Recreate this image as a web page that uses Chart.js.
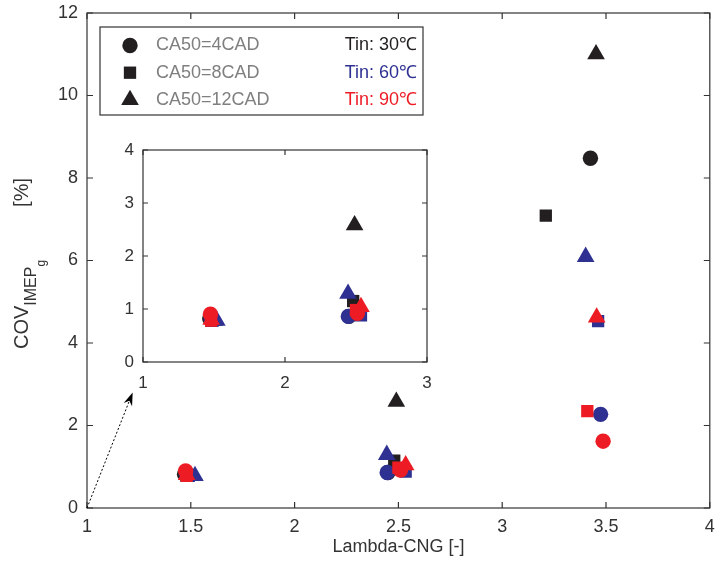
<!DOCTYPE html>
<html>
<head>
<meta charset="utf-8">
<script src="https://cdn.jsdelivr.net/npm/chart.js@4/dist/chart.umd.min.js"></script>
<style>
  body { margin: 0; background: #fff; }
  #wrap { position: relative; width: 720px; height: 571px; }
  #main { position: absolute; left: 0; top: 0; }
  #inset { position: absolute; left: 80px; top: 135px; }
</style>
</head>
<body>
<div id="wrap">
  <canvas id="main" width="720" height="571"></canvas>
  <canvas id="inset" width="360" height="265"></canvas>
</div>
<script>
//Data: lambda and COV of IMEPg, one array per inlet temperature
//rows are CA50 = 4, 8, 12 CAD
const ca50Labels = ["CA50=4CAD", "CA50=8CAD", "CA50=12CAD"];
const tinLabels = ["Tin: 30\u2103", "Tin: 60\u2103", "Tin: 90\u2103"];

const lambdaT30 = [[1.47, 2.45, 3.425], [1.48, 2.48, 3.21], [1.50, 2.49, 3.452]];
const covT30 = [[0.82, 0.86, 8.48], [0.78, 1.15, 7.09], [0.78, 2.58, 11.0]];
const lambdaT60 = [[1.48, 2.446, 3.474], [1.49, 2.535, 3.462], [1.52, 2.444, 3.402]];
const covT60 = [[0.82, 0.86, 2.27], [0.78, 0.88, 4.53], [0.78, 1.29, 6.09]];
const lambdaT90 = [[1.475, 2.51, 3.486], [1.48, 2.50, 3.41], [1.48, 2.535, 3.455]];
const covT90 = [[0.90, 0.92, 1.62], [0.78, 0.98, 2.35], [0.80, 1.04, 4.62]];

const xTicksMain = [1, 1.5, 2, 2.5, 3, 3.5, 4];
const yTicksMain = [0, 2, 4, 6, 8, 10, 12];

//Styles
const tinColors = ["#231f20", "#2e3192", "#ed1c24"];
const shapes = ["circle", "rect", "triangle"];
const shapeRadius = [7.7, 8.7, 10.2];
const FONT = '"Liberation Sans", Arial, sans-serif';
const AXIS = "#333333";

//------------------------------------------

//Build datasets, black first (bottom), red last (top)
function buildDatasets() {
  const lam = [lambdaT30, lambdaT60, lambdaT90];
  const cov = [covT30, covT60, covT90];
  const drawSeq = [[0, 1, 2], [0, 1, 2], [2, 1, 0]]; //red: triangle, square, circle
  const sets = [];
  let n = 0;
  for (let t = 0; t < 3; t++) {
    drawSeq[t].forEach(c => {
      sets.push({
        label: tinLabels[t] + " " + ca50Labels[c],
        data: lam[t][c].map((v, i) => ({x: v, y: cov[t][c][i]})),
        pointStyle: shapes[c],
        pointRadius: shapeRadius[c],
        pointHoverRadius: shapeRadius[c],
        pointBackgroundColor: tinColors[t],
        pointBorderWidth: 0,
        showLine: false,
        order: 100 - n
      });
      n++;
    });
  }
  return sets;
}

const plainTick = v => String(v);
//keep the plot box where it is, labels may overflow the padding
const noPadX = s => { s.paddingLeft = 0; s.paddingRight = 0; };
const noPadY = s => { s.paddingTop = 0; s.paddingBottom = 0; };

//------------------------------------------

//box + inward ticks plugin
const boxTicks = {
  id: 'boxTicks',
  afterDatasetsDraw(chart, args, opts) {
    const {ctx, chartArea: a, scales: {x, y}} = chart;
    const len = opts.len || 6;
    ctx.save();
    ctx.strokeStyle = AXIS;
    ctx.lineWidth = 1.2;
    ctx.beginPath();
    x.ticks.forEach(t => {
      const px = x.getPixelForValue(t.value);
      ctx.moveTo(px, a.bottom); ctx.lineTo(px, a.bottom - len);
      ctx.moveTo(px, a.top); ctx.lineTo(px, a.top + len);
    });
    y.ticks.forEach(t => {
      const py = y.getPixelForValue(t.value);
      ctx.moveTo(a.left, py); ctx.lineTo(a.left + len, py);
      ctx.moveTo(a.right, py); ctx.lineTo(a.right - len, py);
    });
    ctx.stroke();
    ctx.strokeRect(a.left, a.top, a.right - a.left, a.bottom - a.top);
    ctx.restore();
  }
};

//white plot area (inset covers main)
const whiteArea = {
  id: 'whiteArea',
  beforeDraw(chart) {
    const {ctx, chartArea: a} = chart;
    ctx.save();
    ctx.fillStyle = "#fff";
    ctx.fillRect(a.left, a.top, a.right - a.left, a.bottom - a.top);
    ctx.restore();
  }
};

//y title with subscripts
const yTitle = {
  id: 'yTitle',
  afterDraw(chart) {
    const {ctx} = chart;
    const parts = [["COV", 20, 0], ["IMEP", 16, 8], ["g", 12, 17]];
    ctx.save();
    ctx.translate(28, 349);
    ctx.rotate(-Math.PI / 2);
    ctx.fillStyle = AXIS;
    ctx.textBaseline = "alphabetic";
    let px = 0;
    parts.forEach(p => {
      ctx.font = p[1] + "px " + FONT;
      ctx.fillText(p[0], px, p[2]);
      px += ctx.measureText(p[0]).width;
    });
    ctx.font = "20px " + FONT;
    ctx.textAlign = "right";
    ctx.fillText("[%]", 171, 0);
    ctx.restore();
  }
};

//legend (shape column + temperature column) and dotted arrow to the inset
const legendArrow = {
  id: 'legendArrow',
  afterDraw(chart) {
    const {ctx, scales: {x, y}} = chart;
    ctx.save();
    //arrow
    const x0 = x.getPixelForValue(1), y0 = y.getPixelForValue(0);
    const x1 = x.getPixelForValue(1.22), y1 = y.getPixelForValue(2.8);
    const ang = Math.atan2(y1 - y0, x1 - x0);
    ctx.strokeStyle = "#000";
    ctx.lineWidth = 1;
    ctx.setLineDash([2, 2]);
    ctx.beginPath();
    ctx.moveTo(x0, y0);
    ctx.lineTo(x1 - 10 * Math.cos(ang), y1 - 10 * Math.sin(ang));
    ctx.stroke();
    ctx.setLineDash([]);
    ctx.fillStyle = "#000";
    ctx.beginPath();
    ctx.moveTo(x1, y1);
    ctx.lineTo(x1 - 13 * Math.cos(ang) + 4.5 * Math.sin(ang), y1 - 13 * Math.sin(ang) - 4.5 * Math.cos(ang));
    ctx.lineTo(x1 - 9 * Math.cos(ang), y1 - 9 * Math.sin(ang));
    ctx.lineTo(x1 - 13 * Math.cos(ang) - 4.5 * Math.sin(ang), y1 - 13 * Math.sin(ang) + 4.5 * Math.cos(ang));
    ctx.closePath();
    ctx.fill();

    //legend box
    ctx.fillStyle = "#fff";
    ctx.fillRect(100, 27, 323, 88);
    ctx.strokeStyle = AXIS;
    ctx.lineWidth = 1.2;
    ctx.strokeRect(100, 27, 323, 88);
    ctx.font = "18px " + FONT;
    ctx.textBaseline = "middle";
    for (let i = 0; i < 3; i++) {
      const ry = 45.5 + i * 27.2;
      ctx.fillStyle = "#231f20";
      Chart.helpers.drawPoint(ctx, {pointStyle: shapes[i], radius: shapeRadius[i], rotation: 0, borderWidth: 0}, 130, ry);
      ctx.fillStyle = "#7f7f7f";
      ctx.textAlign = "left";
      ctx.fillText(ca50Labels[i], 156, ry);
      ctx.fillStyle = tinColors[i];
      ctx.textAlign = "right";
      ctx.fillText(tinLabels[i], 417, ry);
    }
    ctx.restore();
  }
};

//------------------------------------------

//Configurations main chart
const config = {
  type: 'scatter',
  data: {datasets: buildDatasets()},
  options: {
    responsive: false,
    animation: false,
    layout: {padding: {top: 13, right: 8, left: 0, bottom: 13}},
    plugins: {legend: {display: false}, tooltip: {enabled: false}, boxTicks: {len: 6}},
    scales: {
      x: {
        type: 'linear', min: 1, max: 4,
        afterBuildTicks: s => { s.ticks = xTicksMain.map(v => ({value: v})); },
        afterFit: s => { s.height = 50; noPadX(s); },
        grid: {display: false, drawTicks: false},
        border: {display: false},
        ticks: {font: {size: 18, family: FONT}, color: AXIS, padding: 8, maxRotation: 0, callback: plainTick},
        title: {display: true, text: "Lambda-CNG [-]", font: {size: 18, family: FONT}, color: AXIS, padding: {top: 2, bottom: 0}}
      },
      y: {
        type: 'linear', min: 0, max: 12,
        afterBuildTicks: s => { s.ticks = yTicksMain.map(v => ({value: v})); },
        afterFit: s => { s.width = 87; noPadY(s); },
        grid: {display: false, drawTicks: false},
        border: {display: false},
        ticks: {font: {size: 18, family: FONT}, color: AXIS, padding: 9, callback: plainTick}
      }
    }
  },
  plugins: [boxTicks, yTitle, legendArrow]
};

//Configurations inset chart
const config2 = {
  type: 'scatter',
  data: {datasets: buildDatasets()},
  options: {
    responsive: false,
    animation: false,
    layout: {padding: {top: 15, right: 13, left: 0, bottom: 0}},
    plugins: {legend: {display: false}, tooltip: {enabled: false}, boxTicks: {len: 5}},
    scales: {
      x: {
        type: 'linear', min: 1, max: 3,
        ticks: {stepSize: 1, font: {size: 17, family: FONT}, color: AXIS, padding: 11, maxRotation: 0, callback: plainTick},
        afterFit: s => { s.height = 38; noPadX(s); },
        grid: {display: false, drawTicks: false},
        border: {display: false}
      },
      y: {
        type: 'linear', min: 0, max: 4,
        ticks: {stepSize: 1, font: {size: 17, family: FONT}, color: AXIS, padding: 9, callback: plainTick},
        afterFit: s => { s.width = 63; noPadY(s); },
        grid: {display: false, drawTicks: false},
        border: {display: false}
      }
    }
  },
  plugins: [whiteArea, boxTicks]
};

//------------------------------------------

//Render
const mainChart = new Chart(document.getElementById("main"), config);
const insetChart = new Chart(document.getElementById("inset"), config2);
</script>
</body>
</html>
